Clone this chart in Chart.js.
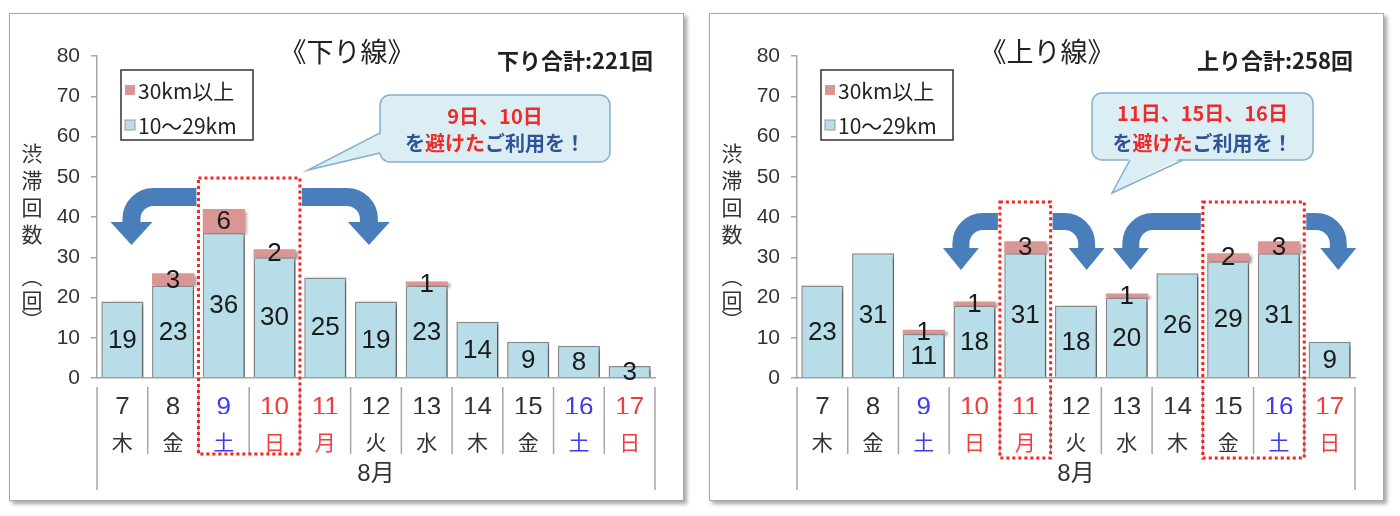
<!DOCTYPE html>
<html>
<head>
<meta charset="utf-8">
<script src="https://cdn.jsdelivr.net/npm/chart.js@4"></script>
<style>
  body { margin: 0; background: #fff; width: 1400px; height: 516px; position: relative; overflow: hidden; }
  .panel { position: absolute; top: 13px; width: 673px; height: 486px; border: 1px solid #a8a8a8;
           box-shadow: 3px 3px 4px rgba(0,0,0,0.35); background: #fff; }
  #p1 { left: 9px; }
  #p2 { left: 709px; }
  canvas { display: block; }
</style>
</head>
<body>
<div class="panel" id="p1"><canvas id="down" width="673" height="486"></canvas></div>
<div class="panel" id="p2"><canvas id="up" width="673" height="486"></canvas></div>

<script>
// data
const days = ["7", "8", "9", "10", "11", "12", "13", "14", "15", "16", "17"];
const weekdays = ["木", "金", "土", "日", "月", "火", "水", "木", "金", "土", "日"];
const holidays = ["11"];
const month = "8月";
const yTicks = { min: 0, max: 80, step: 10 };
const seriesNames = ["10～29km", "30km以上"];

const downShort = [19, 23, 36, 30, 25, 19, 23, 14, 9, 8, 3];
const downLong = [0, 3, 6, 2, 0, 0, 1, 0, 0, 0, 0];
const upShort = [23, 31, 11, 18, 31, 18, 20, 26, 29, 31, 9];
const upLong = [0, 0, 1, 1, 3, 0, 1, 0, 2, 3, 0];

const downTotal = "下り合計:221回";
const upTotal = "上り合計:258回";

// styles
const NUM_FONT = '"Liberation Sans Narrow", "Liberation Sans", "Noto Sans CJK JP", sans-serif';
const JP_FONT = '"Noto Sans CJK JP", "Liberation Sans", sans-serif';
const BLUE = "#b7dde8";
const PINK = "#d99694";
const ARROW = "#4a7ebb";
const RED = "#ee2b2b";
const NAVY = "#2f5496";
const GREY = "#a6a6a6";

function dayColor(i) {
  if (weekdays[i] === "土") return "#3c3cf0";
  if (weekdays[i] === "日" || holidays.includes(days[i])) return "#f23c3c";
  return "#333";
}

function slot(chart, label) {
  const x = chart.scales.x;
  const i = days.indexOf(label);
  const half = (x.getPixelForValue(1) - x.getPixelForValue(0)) / 2;
  const c = x.getPixelForValue(i);
  return { left: c - half, right: c + half };
}

function drawArrow(ctx, x0, dir, reach, a) {
  const xt = x0 + dir * reach;
  const yc = a.top + a.t / 2;
  const R = Math.min(22, reach - 6);
  ctx.save();
  ctx.strokeStyle = ARROW;
  ctx.fillStyle = ARROW;
  ctx.lineWidth = a.t;
  ctx.lineCap = "butt";
  ctx.beginPath();
  ctx.moveTo(x0, yc);
  ctx.lineTo(xt - dir * R, yc);
  ctx.arcTo(xt, yc, xt, yc + R, R);
  ctx.lineTo(xt, a.headBase + 1);
  ctx.stroke();
  ctx.beginPath();
  ctx.moveTo(xt - a.headW / 2, a.headBase);
  ctx.lineTo(xt + a.headW / 2, a.headBase);
  ctx.lineTo(xt, a.tip);
  ctx.closePath();
  ctx.fill();
  ctx.restore();
}

function roundRect(ctx, x, y, w, h, r) {
  ctx.beginPath();
  ctx.moveTo(x + r, y);
  ctx.arcTo(x + w, y, x + w, y + h, r);
  ctx.arcTo(x + w, y + h, x, y + h, r);
  ctx.arcTo(x, y + h, x, y, r);
  ctx.arcTo(x, y, x + w, y, r);
  ctx.closePath();
}

function drawCallout(ctx, b) {
  ctx.save();
  ctx.fillStyle = "#dbeef4";
  ctx.strokeStyle = "#86aed0";
  ctx.lineWidth = 1.5;
  roundRect(ctx, b.x, b.y, b.w, b.h, 10);
  ctx.fill();
  ctx.stroke();
  const [p, q, tip] = b.tail;
  ctx.beginPath();
  ctx.moveTo(p[0] + b.inset[0], p[1] + b.inset[1]);
  ctx.lineTo(q[0] + b.inset[0], q[1] + b.inset[1]);
  ctx.lineTo(tip[0], tip[1]);
  ctx.closePath();
  ctx.fill();
  ctx.beginPath();
  ctx.moveTo(p[0], p[1]);
  ctx.lineTo(tip[0], tip[1]);
  ctx.lineTo(q[0], q[1]);
  ctx.stroke();

  const cx = b.x + b.w / 2;
  ctx.textBaseline = "middle";
  ctx.font = 'bold 20px ' + JP_FONT;
  ctx.textAlign = "center";
  ctx.fillStyle = RED;
  ctx.fillText(b.line1, cx, b.y1);
  const parts = [["を", NAVY], ["避けた", RED], ["ご利用を！", NAVY]];
  const total = parts.reduce((s, pt) => s + ctx.measureText(pt[0]).width, 0);
  let x = cx - total / 2;
  ctx.textAlign = "left";
  parts.forEach(([txt, col]) => {
    ctx.fillStyle = col;
    ctx.fillText(txt, x, b.y2);
    x += ctx.measureText(txt).width;
  });
  ctx.restore();
}

const decor = {
  id: "decor",
  beforeDatasetsDraw(chart) {
    const c = chart.ctx;
    c.save();
    c.shadowColor = "rgba(0,0,0,0.4)";
    c.shadowOffsetX = 2.5;
    c.shadowOffsetY = 2;
    c.shadowBlur = 3;
  },
  afterDatasetsDraw(chart) {
    const c = chart.ctx;
    c.restore();
    // value labels
    c.save();
    c.font = '26px ' + NUM_FONT;
    c.fillStyle = "#1a1a1a";
    c.textAlign = "center";
    c.textBaseline = "middle";
    chart.data.datasets.forEach((ds, di) => {
      chart.getDatasetMeta(di).data.forEach((el, i) => {
        const v = ds.data[i];
        if (!v) return;
        c.fillText(String(v), el.x, (el.y + el.base) / 2 + 1);
      });
    });
    c.restore();
  },
  afterDraw(chart, args, o) {
    const c = chart.ctx;
    const x = chart.scales.x;
    const area = chart.chartArea;
    c.save();

    // category separators and month label
    const half = (x.getPixelForValue(1) - x.getPixelForValue(0)) / 2;
    c.strokeStyle = GREY;
    c.lineWidth = 1.5;
    for (let i = 0; i <= days.length; i++) {
      const px = x.getPixelForValue(i) - half;
      const outer = i === 0 || i === days.length;
      c.beginPath();
      c.moveTo(px, area.bottom + 9);
      c.lineTo(px, outer ? 476 : 440);
      c.stroke();
    }
    c.fillStyle = "#333";
    c.font = '24px ' + NUM_FONT;
    c.textAlign = "center";
    c.textBaseline = "middle";
    c.fillText(month, (x.left + x.right) / 2, 460);

    // y axis title, stacked vertically
    c.font = '21px ' + JP_FONT;
    const ys = [139, 166, 193, 220, 262, 286, 306];
    ["渋", "滞", "回", "数", "︵", "回", "︶"].forEach((ch, k) => c.fillText(ch, 22, ys[k]));

    // title and total
    c.font = '27px ' + JP_FONT;
    c.fillStyle = "#222";
    c.fillText(o.title, 337, 38);
    c.font = 'bold 22px ' + JP_FONT;
    c.textAlign = "right";
    c.fillText(o.total, 643, 47);

    // legend
    c.lineWidth = 1.5;
    c.strokeStyle = "#333";
    c.strokeRect(111, 56, 132, 70);
    const items = [[seriesNames[1], PINK], [seriesNames[0], BLUE]];
    c.font = '21px ' + JP_FONT;
    c.textAlign = "left";
    items.forEach(([name, col], k) => {
      const y = 76 + k * 35;
      c.fillStyle = col;
      c.fillRect(115, y - 5, 10, 10);
      c.strokeStyle = "#999";
      c.lineWidth = 1;
      if (k === 1) c.strokeRect(115, y - 5, 10, 10);
      c.fillStyle = "#222";
      c.fillText(name, 128, y + 1);
    });

    // dotted highlight boxes and arrows
    o.highlights.forEach(h => {
      const l = slot(chart, h.from).left;
      const r = slot(chart, h.to).right;
      c.save();
      c.strokeStyle = "#ff1f1f";
      c.lineWidth = 3;
      c.setLineDash([3, 3]);
      c.strokeRect(l, h.top, r - l, h.bottom - h.top);
      c.restore();
      drawArrow(c, l - 2, -1, h.reachL, o.arrow);
      drawArrow(c, r + 2, 1, h.reachR, o.arrow);
    });

    drawCallout(c, o.callout);
    c.restore();
  }
};

function makeChart(id, shortVals, longVals, decorOpts) {
  return new Chart(document.getElementById(id), {
    type: "bar",
    data: {
      labels: days,
      datasets: [
        {
          label: seriesNames[0],
          data: shortVals,
          backgroundColor: BLUE,
          borderColor: "#8a8a8a",
          borderWidth: 1.5,
        },
        {
          label: seriesNames[1],
          data: longVals,
          backgroundColor: PINK,
          borderWidth: 0,
        },
      ],
    },
    options: {
      responsive: false,
      animation: false,
      layout: { padding: { left: 27, right: 28, top: 42, bottom: 0 } },
      datasets: { bar: { categoryPercentage: 1, barPercentage: 0.83 } },
      scales: {
        x: {
          stacked: true,
          offset: true,
          grid: { display: false, drawTicks: false },
          border: { display: true, color: GREY, width: 1.5 },
          ticks: {
            autoSkip: false,
            maxRotation: 0,
            padding: 14,
            color: (ctx) => dayColor(ctx.index),
            font: { family: NUM_FONT, size: 26, lineHeight: 1.2 },
          },
          afterFit: (s) => { s.height = 36; },
        },
        wd: {
          type: "category",
          position: "bottom",
          labels: weekdays,
          offset: true,
          weight: 1,
          grid: { display: false, drawTicks: false },
          border: { display: false },
          ticks: {
            autoSkip: false,
            maxRotation: 0,
            padding: 15,
            color: (ctx) => dayColor(ctx.index),
            font: { family: JP_FONT, size: 21, lineHeight: 1.2 },
          },
          afterFit: (s) => { s.height = 86; },
        },
        y: {
          stacked: true,
          min: yTicks.min,
          max: yTicks.max,
          ticks: {
            stepSize: yTicks.step,
            padding: 11,
            color: "#333",
            font: { family: '"Liberation Sans", sans-serif', size: 21 },
          },
          grid: { drawOnChartArea: false, tickLength: 6, color: GREY, lineWidth: 1.5 },
          border: { color: GREY, width: 1.5 },
          afterFit: (s) => { s.width = 60; },
        },
      },
      plugins: {
        legend: { display: false },
        tooltip: { enabled: false },
        decor: decorOpts,
      },
    },
    plugins: [decor],
  });
}

makeChart("down", downShort, downLong, {
  title: "《下り線》",
  total: downTotal,
  highlights: [{ from: "9", to: "10", top: 164, bottom: 440, reachL: 65, reachR: 67 }],
  arrow: { top: 174, t: 18, headBase: 208, tip: 231, headW: 42 },
  callout: {
    x: 370, y: 81, w: 230, h: 67,
    tail: [[370, 119], [370, 139], [298, 156]], inset: [3, 0],
    line1: "9日、10日", y1: 102, y2: 129,
  },
});

makeChart("up", upShort, upLong, {
  title: "《上り線》",
  total: upTotal,
  highlights: [
    { from: "11", to: "11", top: 188, bottom: 444, reachL: 37, reachR: 34 },
    { from: "15", to: "16", top: 188, bottom: 444, reachL: 70, reachR: 32 },
  ],
  arrow: { top: 199, t: 17, headBase: 234, tip: 256, headW: 36 },
  callout: {
    x: 382, y: 79, w: 221, h: 67,
    tail: [[420, 146], [473, 146], [402, 179]], inset: [0, -3],
    line1: "11日、15日、16日", y1: 99, y2: 129,
  },
});
</script>
</body>
</html>
